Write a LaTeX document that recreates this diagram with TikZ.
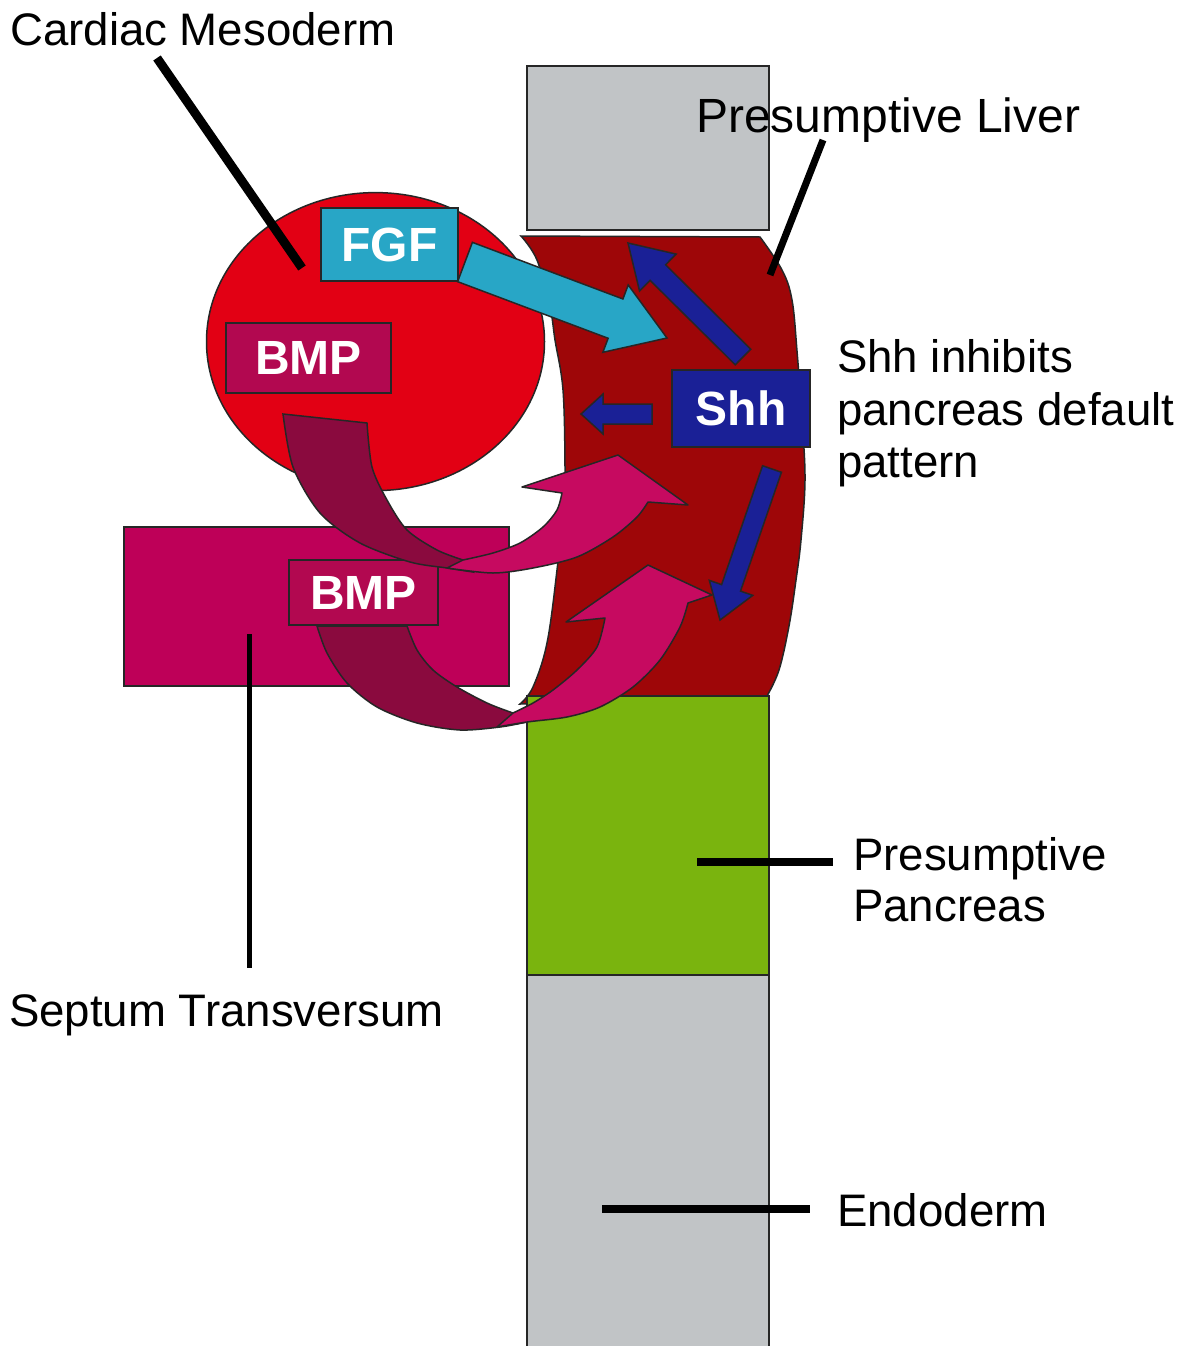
\documentclass[tikz,border=0pt]{standalone}
\usepackage{fontspec}
\setmainfont{Liberation Sans}
\usetikzlibrary{calc}
\definecolor{greyfill}{RGB}{193,196,198}
\definecolor{greenfill}{RGB}{122,180,14}
\definecolor{liverred}{RGB}{158,6,8}
\definecolor{circlered}{RGB}{226,0,20}
\definecolor{septumfill}{RGB}{190,0,88}
\definecolor{bmpfill}{RGB}{178,8,80}
\definecolor{darkband}{RGB}{138,10,62}
\definecolor{lightband}{RGB}{198,10,96}
\definecolor{fgfcyan}{RGB}{40,166,198}
\definecolor{shhnavy}{RGB}{26,32,150}
\newcommand{\fatarrow}[6]{%
  \coordinate (fah) at ($(#2)!#5!(#1)$);
  \filldraw[#6] ($(#1)!#3!90:(#2)$) -- ($(fah)!#3!90:(#2)$) -- ($(fah)!#4!90:(#2)$) -- (#2)
    -- ($(fah)!#4!-90:(#2)$) -- ($(fah)!#3!-90:(#2)$) -- ($(#1)!#3!-90:(#2)$) -- cycle;}
\begin{document}
\begin{tikzpicture}[x=1pt,y=-1pt,
  outl/.style={draw=black!85, line width=1.5pt},
  lbl/.style={font=\fontsize{45.6}{52}\selectfont, inner sep=0pt, anchor=base west},
  boxlbl/.style={outl, font=\bfseries\fontsize{48}{52}\selectfont, text=white, inner sep=0pt},
  leader/.style={line width=#1, black},
]
\useasboundingbox (0,0) rectangle (1192,1346);
\fill[white] (0,0) rectangle (1192,1346);

% endoderm tube
\filldraw[outl, fill=greyfill] (527,66) rectangle (769,230);
\filldraw[outl, fill=liverred] (521,236) -- (760,237)
  -- plot[smooth, tension=0.6] coordinates {(760,237) (782,270) (792,300) (797,351) (802,419) (805,480) (801,540) (796,580) (789,626) (779,670) (767,696)}
  -- (767,700) -- (520,704)
  -- plot[smooth, tension=0.6] coordinates {(520,704) (533,687) (547,643) (557,570) (564,500) (565,467) (563,390) (555,340) (550,307) (537,260) (521,236)}
  -- cycle;
\filldraw[outl, fill=greenfill] (527,696) rectangle (769,975);
\fill[greyfill] (527,975) rectangle (769,1350);
\draw[outl] (527,1350) -- (527,975) -- (769,975) -- (769,1350);

% cardiac mesoderm
\filldraw[outl, fill=circlered] (375.5,341.6) ellipse [x radius=169, y radius=149];
\node[boxlbl, fill=fgfcyan, minimum width=137pt, minimum height=73pt] (fgf) at (389.5,244.5) {FGF};
\node[boxlbl, fill=bmpfill, minimum width=165pt, minimum height=70pt] (bmpa) at (308.5,358) {BMP};

% septum transversum
\filldraw[outl, fill=septumfill] (124,527) rectangle (509,686);

% lower curved BMP arrow
\filldraw[outl, fill=darkband]
  plot[smooth] coordinates {(317,626) (327,653) (347,683) (377,707) (417,723) (460,730) (500,727) (527,722)}
  -- plot[smooth] coordinates {(527,717) (513,713) (487,703) (457,687) (433,670) (417,650) (407,626)}
  -- cycle;
\filldraw[outl, fill=lightband, line join=round]
  plot[smooth] coordinates {(497,727) (527,722) (567,717) (600,707) (633,687) (660,660) (680,627) (688,603)}
  -- (712,595) -- (648,565) -- (566,622) -- (605,618)
  -- plot[smooth] coordinates {(605,618) (597,647) (577,670) (553,690) (533,703) (513,713)}
  -- cycle;
\node[boxlbl, fill=bmpfill, minimum width=149pt, minimum height=65pt] (bmpb) at (363.5,592.5) {BMP};

% upper curved BMP arrow
\filldraw[outl, fill=darkband]
  plot[smooth] coordinates {(283,414) (293,467) (320,513) (360,543) (410,562) (447,568) (473,572)}
  -- plot[smooth] coordinates {(463,560) (437,550) (407,530) (387,500) (372,467) (367,423)}
  -- cycle;
\filldraw[outl, fill=lightband, line join=round]
  plot[smooth] coordinates {(447,568) (493,573) (533,568) (577,557) (613,537) (637,517) (648,502)}
  -- (688,505) -- (618,455) -- (522,487) -- (562,493)
  -- plot[smooth] coordinates {(562,493) (557,510) (543,527) (520,543) (493,553) (463,560)}
  -- cycle;

% Shh and its arrows
\node[boxlbl, fill=shhnavy, minimum width=138pt, minimum height=77pt] (shh) at (741,408.5) {Shh};
\coordinate (s1a) at (743,357); \coordinate (s1b) at (628,243);
\coordinate (s2a) at (652,414); \coordinate (s2b) at (581,414);
\coordinate (s3a) at (772,469); \coordinate (s3b) at (720,620);
\fatarrow{s1a}{s1b}{11pt}{26pt}{42pt}{outl, fill=shhnavy}
\fatarrow{s2a}{s2b}{10pt}{20pt}{22pt}{outl, fill=shhnavy}
\fatarrow{s3a}{s3b}{10pt}{23pt}{34pt}{outl, fill=shhnavy}

% FGF arrow
\coordinate (fa) at (465,262); \coordinate (fb) at (667,338);
\fatarrow{fa}{fb}{21pt}{36pt}{55pt}{outl, fill=fgfcyan}

% leader lines
\coordinate (cm1) at (157,58);  \coordinate (cm2) at (302,268);
\coordinate (pl1) at (823,140); \coordinate (pl2) at (770,275);
\coordinate (st1) at (249,634); \coordinate (st2) at (249,968);
\coordinate (pp1) at (697,862); \coordinate (pp2) at (833,862);
\coordinate (en1) at (602,1209);\coordinate (en2) at (810,1209);
\draw[leader=9pt] (cm1) -- (cm2);
\draw[leader=7pt] (pl1) -- (pl2);
\draw[leader=5pt] (st1) -- (st2);
\draw[leader=8pt] (pp1) -- (pp2);
\draw[leader=8pt] (en1) -- (en2);

% labels
\node[lbl] (tcm) at (10,46) {Cardiac Mesoderm};
\node[lbl, font=\fontsize{48}{52}\selectfont] (tpl) at (696,132) {Presumptive Liver};
\node[lbl] (tsh1) at (837,372) {Shh inhibits};
\node[lbl] (tsh2) at (837,425) {pancreas default};
\node[lbl] (tsh3) at (837,477) {pattern};
\node[lbl] (tpp1) at (853,870) {Presumptive};
\node[lbl] (tpp2) at (853,921) {Pancreas};
\node[lbl] (tst) at (9,1026) {Septum Transversum};
\node[lbl] (ten) at (837,1226) {Endoderm};
\end{tikzpicture}
\end{document}
